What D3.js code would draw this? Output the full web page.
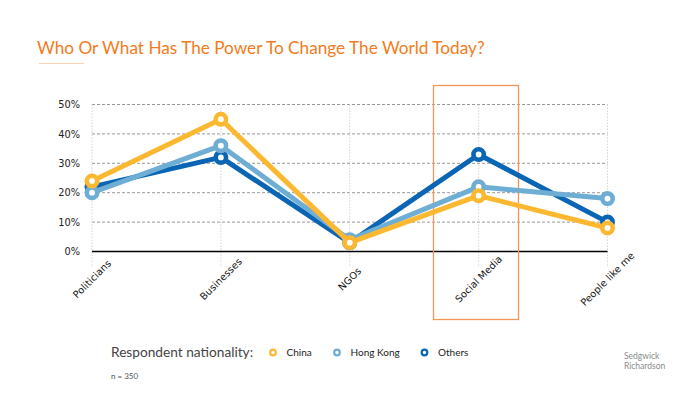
<!DOCTYPE html>
<html><head><meta charset="utf-8">
<script src="https://cdn.jsdelivr.net/npm/d3@7"></script>
<style>body{margin:0;background:#fff}svg{display:block}</style>
</head><body>
<svg id="c" width="700" height="400"></svg>
<script>
const categories = ["Politicians","Businesses","NGOs","Social Media","People like me"];
const seriesNames = ["Others","Hong Kong","China"];
const others = [22, 32, 3, 33, 10];
const hongKong = [20, 36, 4, 22, 18];
const china = [24, 45, 3, 19, 8];
const yTicks = [0,10,20,30,40,50];
const legendOrder = ["China","Hong Kong","Others"];

const colors = {"China":"#FDB831","Hong Kong":"#6FAED4","Others":"#0A66B4"};
const seriesData = {"Others":others,"Hong Kong":hongKong,"China":china};

const svg = d3.select("#c");
const x = d3.scalePoint().domain(categories).range([92, 607.5]);
const y = d3.scaleLinear().domain([0,50]).range([251.5, 104.5]);

// title
svg.append("text").attr("x",37).attr("y",54).text("Who Or What Has The Power To Change The World Today?")
  .attr("font-family","Lato").attr("font-size",17.2).attr("fill","#F47B20");
svg.append("line").attr("x1",39).attr("x2",84).attr("y1",63.5).attr("y2",63.5).attr("stroke","#FBD3B0").attr("stroke-width",1);

// horizontal grid
svg.append("g").selectAll("line").data(yTicks.filter(d=>d>0)).join("line")
  .attr("x1",92).attr("x2",607.5).attr("y1",d=>y(d)).attr("y2",d=>y(d))
  .attr("stroke","#999").attr("stroke-dasharray","3,2").attr("stroke-width",1);
// vertical grid
svg.append("g").selectAll("line").data(categories).join("line")
  .attr("x1",d=>x(d)).attr("x2",d=>x(d)).attr("y1",y(50)).attr("y2",267)
  .attr("stroke","#d4d4d4").attr("stroke-dasharray","1.5,1.5").attr("stroke-width",1);

// y axis labels
const yAxis = d3.axisLeft(y).tickValues(yTicks).tickFormat(d=>d+"%").tickSize(0).tickPadding(0);
const yg = svg.append("g").attr("transform","translate(80,0)").call(yAxis);
yg.select(".domain").remove();
yg.selectAll("text").attr("font-family","DejaVu Sans").attr("font-size",9.8).attr("fill","#222");

// baseline
svg.append("line").attr("x1",92).attr("x2",607.5).attr("y1",y(0)).attr("y2",y(0)).attr("stroke","#000").attr("stroke-width",1.3);

// x labels
const xAxis = d3.axisBottom(x).tickSize(0).tickPadding(0);
const xg = svg.append("g").call(xAxis);
xg.select(".domain").remove();
xg.selectAll(".tick").attr("transform",d=>`translate(${x(d)},279)`);
xg.selectAll("text").attr("y",0).attr("dy","0.35em").attr("text-anchor","middle")
  .attr("transform","rotate(-45)")
  .attr("font-family","DejaVu Sans").attr("font-size",9.8).attr("fill","#111");

// highlight rect
svg.append("rect").attr("x",433.5).attr("y",85.5).attr("width",85).attr("height",234)
  .attr("fill","none").attr("stroke","#F7945A").attr("stroke-width",1.3);

// lines
const line = d3.line().x((d,i)=>x(categories[i])).y(d=>y(d));
seriesNames.forEach(name=>{
  const g = svg.append("g");
  g.append("path").datum(seriesData[name]).attr("d",line).attr("fill","none")
    .attr("stroke",colors[name]).attr("stroke-width",5).attr("stroke-linejoin","round");
  g.selectAll("circle").data(seriesData[name]).join("circle")
    .attr("cx",(d,i)=>x(categories[i])).attr("cy",d=>y(d)).attr("r",5.2)
    .attr("fill","#fff").attr("stroke",colors[name]).attr("stroke-width",4.6);
});

// legend
svg.append("text").attr("x",111).attr("y",357).text("Respondent nationality:")
  .attr("font-family","Lato").attr("font-size",13.7).attr("fill","#444");
const legX = {"China":273,"Hong Kong":337,"Others":424.5};
legendOrder.forEach(n=>{
  svg.append("circle").attr("cx",legX[n]).attr("cy",352.5).attr("r",2.8).attr("fill","#fff")
    .attr("stroke",colors[n]).attr("stroke-width",2.2);
  svg.append("text").attr("x",legX[n]+13.5).attr("y",356).text(n)
    .attr("font-family","Lato").attr("font-size",10).attr("fill","#222");
});
svg.append("text").attr("x",111).attr("y",379).text("n = 350")
  .attr("font-family","Lato").attr("font-size",8).attr("fill","#555");
svg.append("text").attr("x",624).attr("y",359).text("Sedgwick")
  .attr("font-family","Lato").attr("font-size",8.5).attr("fill","#8a8a8a");
svg.append("text").attr("x",624).attr("y",368.5).text("Richardson")
  .attr("font-family","Lato").attr("font-size",8.5).attr("fill","#8a8a8a");
</script>
</body></html>
